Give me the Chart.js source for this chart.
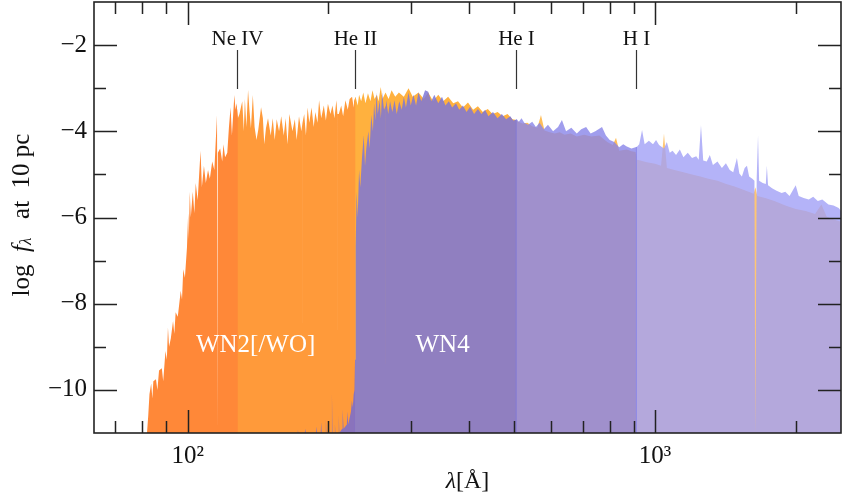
<!DOCTYPE html>
<html>
<head>
<meta charset="utf-8">
<script src="https://cdn.jsdelivr.net/npm/chart.js@4.4.0/dist/chart.umd.min.js"></script>
<style>
  html, body { margin: 0; padding: 0; background: #fff; }
</style>
</head>
<body>
<canvas id="myChart" width="842" height="496"></canvas>
<script>
// WN2[/WO] model spectrum (orange): wavelength [A], log f_lambda
const wavelengthWN2 = [
  81.8, 82.3, 82.8, 83.5, 84.0, 84.4, 85.5, 86.1, 86.8, 88.0,
  88.6, 89.6, 90.2, 90.7, 91.2, 92.0, 93.0, 93.6, 94.2, 95.2,
  96.6, 97.2, 97.8, 98.6, 99.6, 100.2, 100.5, 101.0, 101.5, 102.5,
  103.3, 104.0, 105.0, 106.5, 107.2, 108.3, 109.3, 110.5, 111.5, 112.8,
  114.0, 115.5, 115.96, 116.0, 116.04, 117.3, 118.5, 119.2, 120.2, 121.5,
  122.5, 123.5, 124.3, 125.8, 126.5, 127.2, 128.0, 129.0, 130.8, 131.8,
  132.5, 133.5, 134.6, 135.5, 136.5, 137.8, 139.0, 140.3, 141.6, 143.5,
  144.8, 145.8, 147.0, 148.5, 150.5, 152.0, 153.5, 155.0, 156.8, 158.5,
  160.5, 162.0, 163.5, 165.0, 167.5, 169.5, 171.0, 173.0, 175.0, 175.97,
  176.0, 176.03, 177.5, 179.0, 180.5, 182.0, 184.0, 186.0, 187.5, 189.5,
  191.0, 193.0, 195.5, 197.5, 199.5, 202.0, 204.0, 206.0, 208.0, 209.07,
  209.1, 209.13, 210.5, 213.0, 215.0, 217.5, 220.0, 222.0, 224.7, 226.5,
  227.0, 228.6, 231.0, 232.6, 235.0, 237.5, 240.0, 243.0, 246.0, 248.5,
  251.0, 254.0, 256.0, 258.8, 261.0, 265.0, 269.0, 273.0, 278.0, 283.0,
  290.0, 296.8, 303.0, 311.7, 320.0, 327.0, 335.0, 343.6, 352.0, 360.7,
  370.0, 378.7, 388.0, 397.8, 408.0, 417.7, 428.0, 438.5, 449.0, 460.4,
  472.0, 483.4, 495.0, 502.5, 506.0, 520.0, 533.0, 545.8, 560.0, 570.0,
  580.0, 595.0, 610.0, 625.0, 640.0, 660.0, 680.0, 705.0, 730.0, 760.0,
  790.0, 812.0, 825.0, 838.0, 870.0, 890.0, 908.5, 915.0, 930.0, 960.0,
  1000, 1030, 1045, 1060, 1100, 1150, 1200, 1250, 1300, 1360,
  1420, 1480, 1540, 1600, 1625, 1640, 1655, 1720, 1800, 1900,
  2000, 2100, 2200, 2270, 2330, 2420, 2500
];
const fluxWN2 = [
  -11, -10.6, -10.1, -9.85, -10.2, -9.8, -9.75, -10.0, -9.55, -9.5,
  -9.8, -9.1, -9.3, -8.55, -9.0, -8.8, -8.4, -8.7, -8.2, -8.3,
  -7.7, -7.9, -7.2, -7.4, -6.7, -5.9, -6.5, -5.4, -6.0, -5.4,
  -5.9, -5.2, -5.6, -4.45, -5.3, -4.8, -5.2, -4.9, -5.1, -4.7,
  -4.9, -3.62, -4.5, -11, -4.5, -4.4, -4.7, -4.3, -4.6, -4.5,
  -3.9, -3.44, -4.1, -3.16, -3.5, -3.35, -3.7, -3.6, -3.3, -4.0,
  -3.25, -3.9, -3.04, -3.5, -3.93, -3.16, -3.9, -4.2, -3.95, -3.44,
  -3.7, -4.3, -3.93, -3.7, -4.1, -3.7, -4.2, -3.72, -4.0, -3.65,
  -4.1, -3.7, -4.3, -3.6, -4.0, -3.72, -4.2, -3.65, -4.0, -3.8,
  -11, -3.8, -3.6, -4.1, -3.45, -3.8, -3.45, -3.9, -3.55, -3.8,
  -3.28, -3.7, -3.4, -3.75, -3.36, -3.6, -3.4, -3.7, -3.28, -3.6,
  -11, -3.6, -3.6, -3.4, -3.65, -3.28, -3.5, -3.25, -3.2, -3.45,
  -3.3, -3.2, -3.4, -3.15, -3.3, -3.1, -3.35, -3.12, -3.3, -3.05,
  -3.25, -3.15, -3.3, -2.97, -3.25, -3.1, -3.25, -3.05, -3.2, -3.1,
  -3.2, -3.0, -3.2, -3.1, -3.25, -3.1, -3.3, -3.15, -3.3, -3.2,
  -3.35, -3.3, -3.45, -3.33, -3.5, -3.42, -3.55, -3.48, -3.6, -3.55,
  -3.65, -3.6, -3.72, -3.73, -3.76, -3.82, -3.8, -3.88, -3.92, -3.62,
  -3.98, -4.02, -4.05, -4.02, -4.08, -4.05, -4.12, -4.08, -4.12, -4.1,
  -4.25, -4.32, -4.15, -4.45, -4.42, -4.46, -4.48, -4.66, -4.68, -4.72,
  -4.75, -4.8, -4.05, -4.85, -4.9, -4.95, -5.0, -5.05, -5.1, -5.15,
  -5.22, -5.28, -5.35, -5.42, -5.45, -5.3, -5.5, -5.55, -5.62, -5.72,
  -5.8, -5.85, -5.92, -5.7, -5.98, -6.05, -6.1
];

// WN4 model spectrum (purple): wavelength [A], log f_lambda
const wavelengthWN4 = [
  150, 171.5, 172.0, 172.5, 178.0, 178.5, 179.0, 188.0, 188.5, 189.0,
  192.5, 193.0, 193.5, 197.0, 197.5, 198.0, 203.0, 203.5, 204.0, 206.0,
  206.5, 207.0, 210.0, 210.5, 211.0, 214.0, 214.5, 215.5, 219.0, 219.5,
  220.5, 223.5, 224.5, 225.5, 226.5, 227.5, 228.0, 228.5, 229.0, 229.8,
  231.0, 232.6, 234.0, 236.0, 238.0, 239.5, 241.0, 243.5, 245.0, 247.0,
  249.0, 250.5, 252.0, 253.5, 255.0, 257.5, 259.0, 260.5, 263.0, 265.45,
  265.5, 265.55, 266.0, 268.5, 271.0, 274.0, 277.0, 280.0, 283.5, 287.0,
  290.0, 293.0, 296.8, 300.0, 304.0, 308.0, 311.7, 316.0, 322.0, 327.0,
  332.0, 337.0, 343.6, 350.0, 356.0, 362.0, 368.0, 375.0, 381.0, 388.0,
  395.0, 402.0, 410.0, 417.7, 425.0, 433.0, 440.0, 450.0, 460.0, 470.0,
  480.0, 490.0, 497.0, 502.5, 506.0, 511.0, 518.0, 525.0, 535.0, 546.0,
  556.0, 566.0, 578.0, 590.0, 605.0, 620.0, 632.0, 645.0, 662.0, 680.0,
  695.0, 712.0, 728.0, 745.0, 770.0, 785.0, 800.0, 818.0, 838.0, 855.0,
  870.0, 890.0, 908.5, 915.0, 925.0, 938.0, 950.0, 970.0, 990.0, 1005,
  1020, 1045, 1060, 1075, 1090, 1109, 1130, 1150, 1175, 1200,
  1225, 1240, 1254, 1268, 1290, 1310, 1330, 1360, 1390, 1418,
  1445, 1470, 1497, 1515, 1534, 1555, 1573, 1590, 1615, 1632,
  1639, 1643, 1650, 1661, 1670, 1700, 1726, 1735, 1745, 1780,
  1820, 1866, 1900, 1940, 2000, 2030, 2080, 2133, 2180, 2230,
  2280, 2350, 2410, 2472, 2500
];
const fluxWN4 = [
  -11, -11, -10.93, -11, -11, -10.9, -11, -11, -10.85, -11,
  -11, -10.75, -11, -11, -10.7, -11, -11, -10.1, -11, -11,
  -10.8, -11, -11, -10.6, -11, -10.9, -10.45, -10.9, -10.8, -10.5,
  -10.8, -10.5, -10.25, -10.4, -10.1, -10.0, -9.3, -8.5, -6.7, -5.4,
  -6.0, -4.9, -5.3, -4.6, -4.09, -4.8, -4.4, -4.0, -4.4, -3.62,
  -4.0, -3.35, -3.75, -3.1, -3.6, -3.28, -3.7, -3.1, -3.5, -3.4,
  -11, -3.4, -3.28, -3.6, -3.3, -3.55, -3.28, -3.6, -3.3, -3.5,
  -3.2, -3.45, -3.1, -3.4, -3.15, -3.4, -3.1, -3.3, -3.05, -3.08,
  -3.3, -3.15, -3.35, -3.2, -3.4, -3.3, -3.45, -3.35, -3.5, -3.4,
  -3.55, -3.43, -3.6, -3.48, -3.6, -3.5, -3.65, -3.55, -3.7, -3.6,
  -3.72, -3.65, -3.75, -3.74, -3.72, -3.78, -3.7, -3.8, -3.85, -3.78,
  -3.9, -3.8, -3.95, -3.85, -4.0, -3.9, -3.74, -4.0, -3.92, -4.05,
  -3.95, -3.9, -4.05, -4.0, -3.9, -4.1, -4.2, -4.25, -4.37, -4.3,
  -4.35, -4.4, -4.37, -4.36, -4.3, -3.97, -4.3, -4.22, -4.3, -4.2,
  -4.32, -4.4, -4.25, -4.5, -4.45, -4.55, -4.42, -4.6, -4.5, -4.62,
  -4.58, -4.66, -3.86, -4.68, -4.7, -4.55, -4.78, -4.7, -4.85, -4.74,
  -4.9, -4.95, -4.62, -4.98, -5.05, -4.85, -4.8, -5.05, -5.1, -5.15,
  -11, -11, -5.1, -4.1, -5.15, -5.2, -5.22, -4.8, -5.25, -5.32,
  -5.38, -5.43, -5.4, -5.5, -5.25, -5.5, -5.55, -5.58, -5.52, -5.62,
  -5.58, -5.7, -5.72, -5.78, -5.85
];

// ionisation edges marked at the top
const edgeWavelengths = [127.6, 227.8, 504.3, 911.8];
const edgeLabels = ['Ne IV', 'He II', 'He I', 'H I'];

// axis ticks
const xTickValues = [100, 1000];
const xTickLabels = ['10²', '10³'];
const xMinorTicks = [70, 80, 90, 200, 300, 400, 500, 600, 700, 800, 900, 2000];
const yTickValues = [-2, -4, -6, -8, -10];
const yTickLabels = ['−2', '−4', '−6', '−8', '−10'];
const yMinorTicks = [-3, -5, -7, -9];

// fill colours per band: <Ne IV, Ne IV-He II, He II-He I, He I-H I, >H I
const orangeFills = ['#ff8838', '#ff9a3a', '#ffb13e', '#ffbe5a', '#ffc673'];
const purpleFills = ['rgba(118,108,212,0.85)', 'rgba(118,108,212,0.85)', 'rgba(125,119,215,0.85)',
                     'rgba(136,132,232,0.8)', 'rgba(161,160,246,0.8)'];

const serif = '"Liberation Serif", "Times New Roman", serif';

// points of one spectrum inside one ionisation band, plus the neighbour on each side
function bandData(ws, fs, band) {
    const lo = band === 0 ? -Infinity : edgeWavelengths[band - 1];
    const hi = band === edgeWavelengths.length ? Infinity : edgeWavelengths[band];
    let i0 = 0;
    while (i0 + 1 < ws.length && ws[i0 + 1] <= lo) i0++;
    let i1 = ws.length - 1;
    while (i1 - 1 >= 0 && ws[i1 - 1] >= hi) i1--;
    const out = [];
    for (let i = i0; i <= i1; i++) out.push({x: ws[i], y: fs[i]});
    return out;
}

function bandDatasets(name, ws, fs, colors) {
    const sets = [];
    colors.forEach((c, band) => {
        const data = bandData(ws, fs, band);
        if (data.length < 2) return;
        sets.push({
            label: name + ' ' + band,
            data: data,
            fill: 'start',
            backgroundColor: c,
            borderWidth: 0,
            pointRadius: 0,
            tension: 0
        });
    });
    return sets;
}

const decorations = {
    id: 'decorations',
    afterDraw(chart) {
        const {ctx, chartArea: a, scales: {x, y}} = chart;
        ctx.save();

        // ticks on all four sides, pointing inwards
        ctx.strokeStyle = '#222';
        ctx.lineWidth = 1.5;
        ctx.beginPath();
        const xt = (v, len) => {
            const px = Math.round(x.getPixelForValue(v)) + 0.5;
            ctx.moveTo(px, a.bottom); ctx.lineTo(px, a.bottom - len);
            ctx.moveTo(px, a.top); ctx.lineTo(px, a.top + len);
        };
        const yt = (v, len) => {
            const py = Math.round(y.getPixelForValue(v)) + 0.5;
            ctx.moveTo(a.left, py); ctx.lineTo(a.left + len, py);
            ctx.moveTo(a.right, py); ctx.lineTo(a.right - len, py);
        };
        xTickValues.forEach(v => xt(v, 23));
        xMinorTicks.forEach(v => xt(v, 12));
        yTickValues.forEach(v => yt(v, 23));
        yMinorTicks.forEach(v => yt(v, 12));
        ctx.stroke();

        ctx.lineWidth = 1.6;
        ctx.strokeRect(a.left, a.top, a.right - a.left, a.bottom - a.top);

        // edge markers
        ctx.lineWidth = 1.2;
        ctx.strokeStyle = '#333';
        ctx.fillStyle = '#111';
        ctx.font = '21px ' + serif;
        ctx.textAlign = 'center';
        ctx.textBaseline = 'alphabetic';
        edgeWavelengths.forEach((w, i) => {
            const px = Math.round(x.getPixelForValue(w)) + 0.5;
            ctx.beginPath();
            ctx.moveTo(px, 50);
            ctx.lineTo(px, 89);
            ctx.stroke();
            ctx.fillText(edgeLabels[i], px, 45);
        });

        // model names
        ctx.fillStyle = '#ffffff';
        ctx.font = '25px ' + serif;
        ctx.textBaseline = 'middle';
        ctx.fillText('WN2[/WO]', x.getPixelForValue(139.7), y.getPixelForValue(-8.96));
        ctx.fillText('WN4', x.getPixelForValue(351), y.getPixelForValue(-8.96));

        // x title: lambda[A]
        ctx.fillStyle = '#111';
        ctx.textBaseline = 'alphabetic';
        ctx.textAlign = 'left';
        const it = 'italic 24px ' + serif, up = '24px ' + serif;
        ctx.font = it; const wL = ctx.measureText('λ').width;
        ctx.font = up; const wB = ctx.measureText('[Å]').width;
        const sx = (a.left + a.right) / 2 - (wL + wB) / 2;
        ctx.font = it; ctx.fillText('λ', sx, 488);
        ctx.font = up; ctx.fillText('[Å]', sx + wL, 488);

        // y title: log f_lambda at 10 pc
        ctx.translate(22, 215);
        ctx.rotate(-Math.PI / 2);
        ctx.textBaseline = 'middle';
        const up25 = '25px ' + serif;
        const parts = [
            {t: 'log  ', f: up25, dy: 0},
            {t: 'f', f: 'italic 25px ' + serif, dy: 0},
            {t: 'λ', f: 'italic 17px ' + serif, dy: 5},
            {t: '   at  10 pc', f: up25, dy: 0}
        ];
        let total = 0;
        parts.forEach(p => { ctx.font = p.f; p.w = ctx.measureText(p.t).width; total += p.w; });
        let cx = -total / 2;
        parts.forEach(p => { ctx.font = p.f; ctx.fillText(p.t, cx, p.dy); cx += p.w; });

        ctx.restore();
    }
};

const ctx = document.getElementById('myChart').getContext('2d');

const chart = new Chart(ctx, {
    type: 'line',
    data: {
        // WN4 first so it is drawn on top of WN2
        datasets: bandDatasets('WN4', wavelengthWN4, fluxWN4, purpleFills)
            .concat(bandDatasets('WN2', wavelengthWN2, fluxWN2, orangeFills))
    },
    options: {
        responsive: false,
        animation: false,
        events: [],
        layout: { padding: { top: 2, right: 1, left: 0, bottom: 0 } },
        plugins: {
            legend: { display: false },
            tooltip: { enabled: false }
        },
        scales: {
            x: {
                type: 'logarithmic',
                min: 63,
                max: 2500,
                grid: { display: false, drawTicks: false },
                border: { display: false },
                ticks: {
                    autoSkip: false,
                    maxRotation: 0,
                    padding: 8,
                    color: '#111',
                    font: { family: serif, size: 25 },
                    callback: v => {
                        const i = xTickValues.findIndex(t => Math.abs(t - v) < 1e-6);
                        return i >= 0 ? xTickLabels[i] : null;
                    }
                },
                afterFit: s => { s.height = 63; s.paddingLeft = 0; s.paddingRight = 0; }
            },
            y: {
                type: 'linear',
                min: -11,
                max: -1,
                grid: { display: false, drawTicks: false },
                border: { display: false },
                ticks: {
                    stepSize: 1,
                    autoSkip: false,
                    padding: 7,
                    color: '#111',
                    font: { family: serif, size: 25 },
                    callback: v => {
                        const i = yTickValues.indexOf(v);
                        return i >= 0 ? yTickLabels[i] : null;
                    }
                },
                afterFit: s => { s.width = 94; s.paddingTop = 0; s.paddingBottom = 0; }
            }
        }
    },
    plugins: [decorations]
});
</script>
</body>
</html>
